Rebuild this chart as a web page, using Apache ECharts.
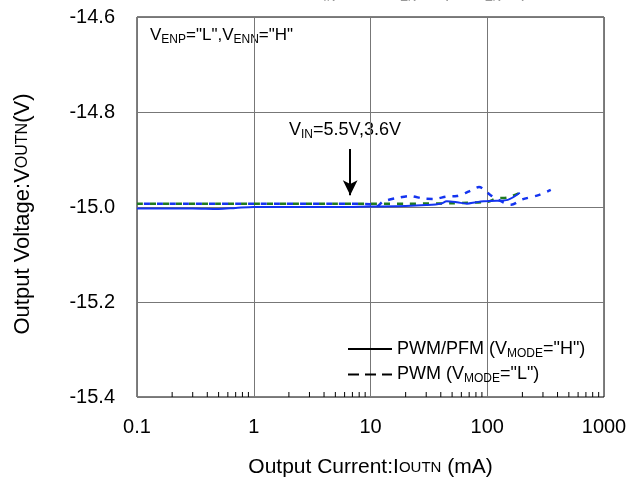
<!DOCTYPE html>
<html>
<head>
<meta charset="utf-8">
<script src="https://cdn.jsdelivr.net/npm/echarts@6/dist/echarts.min.js"></script>
<style>html,body{margin:0;padding:0;background:#fff}#c{width:636px;height:484px}</style>
</head>
<body>
<div id="c"></div>
<script>
// ---- data ----
const yTicks = [-15.4, -15.2, -15.0, -14.8, -14.6];
const xTicks = [0.1, 1, 10, 100, 1000];
const minorTicks = [0.2,0.3,0.4,0.5,0.6,0.7,0.8,0.9,2,3,4,5,6,7,8,9,20,30,40,50,60,70,80,90,200,300,400,500,600,700,800,900];

const pwmPfmI = [0.1, 0.2, 0.3, 0.5, 0.7, 1, 2, 5, 10, 20, 30, 40, 45, 55, 67, 80, 93, 120, 150, 190];
const pwmPfmV = [-15.003, -15.003, -15.003, -15.004, -15.002, -15.0, -15.0, -15.0, -14.999, -14.998, -14.996, -14.993, -14.988, -14.99, -14.993, -14.99, -14.988, -14.987, -14.985, -14.97];

const pwmGreenI = [0.1, 0.2, 0.5, 1, 2, 5, 10, 20, 50, 100, 120, 150, 190];
const pwmGreenV = [-14.993, -14.993, -14.993, -14.993, -14.993, -14.993, -14.993, -14.993, -14.992, -14.989, -14.982, -14.98, -14.97];

const pwmBlueI = [0.1, 1, 5, 10, 11, 13, 17, 22, 28, 35, 45, 55, 70, 85, 108, 137, 160, 200, 275, 350];
const pwmBlueV = [-14.993, -14.993, -14.993, -14.994, -15.0, -14.988, -14.981, -14.977, -14.982, -14.983, -14.978, -14.977, -14.967, -14.958, -14.976, -14.99, -14.995, -14.984, -14.975, -14.964];

const arrowX = 6.7, arrowTop = -14.878, arrowBottom = -14.975;

const zip = (a, b) => a.map((v, i) => [v, b[i]]);
const FONT = 'Liberation Sans';

const chart = echarts.init(document.getElementById('c'), null, {renderer: 'canvas'});
chart.setOption({
  animation: false,
  backgroundColor: '#fff',
  textStyle: {fontFamily: FONT},
  grid: {left: 137, right: 32, top: 17, bottom: 87, show: true, borderColor: '#000', borderWidth: 1, backgroundColor: 'transparent'},
  xAxis: {
    type: 'log', min: 0.1, max: 1000, logBase: 10,
    axisLine: {show: false}, axisTick: {show: false},
    axisLabel: {color: '#000', fontSize: 20, fontFamily: FONT, margin: 20,
      formatter: v => { const t = xTicks.find(k => Math.abs(k - v) / k < 1e-6); return t === undefined ? '' : String(t); }},
    splitLine: {show: true, lineStyle: {color: '#777', width: 1}},
    name: '{n|Output Current:I}{s|OUTN}{n| (mA)}',
    nameLocation: 'middle', nameGap: 60,
    nameTextStyle: {rich: {n: {fontSize: 21, fontFamily: FONT, color: '#000'}, s: {fontSize: 15, fontFamily: FONT, color: '#000'}}}
  },
  yAxis: {
    type: 'value', min: -15.4, max: -14.6, interval: 0.2,
    axisLine: {show: false}, axisTick: {show: false},
    axisLabel: {color: '#000', fontSize: 20, fontFamily: FONT, margin: 22,
      formatter: v => { const t = yTicks.find(k => Math.abs(k - v) < 1e-6); return t === undefined ? '' : t.toFixed(1); }},
    splitLine: {show: true, lineStyle: {color: '#777', width: 1}},
    name: '{n|Output Voltage:V}{s|OUTN}{n|(V)}',
    nameLocation: 'middle', nameRotate: 90, nameGap: 103, nameTextStyle: {padding: [0, 14, 0, 0],
      rich: {n: {fontSize: 22, fontFamily: FONT, color: '#000'}, s: {fontSize: 16, fontFamily: FONT, color: '#000'}}}
  },
  legend: {
    left: 342, top: 335, orient: 'vertical', itemGap: 6, itemWidth: 44, itemHeight: 17,
    itemStyle: {opacity: 0},
    data: ['PWM/PFM', 'PWM'],
    formatter: n => n === 'PWM/PFM' ? '{n|PWM/PFM (V}{s|MODE}{n|="H")}' : '{n|PWM (V}{s|MODE}{n|="L")}',
    textStyle: {rich: {n: {fontSize: 18, fontFamily: FONT, color: '#000'}, s: {fontSize: 12, fontFamily: FONT, color: '#000', padding: [9, 0, 0, 0]}}}
  },
  series: [
    {name: 'PWM/PFM', type: 'line', data: [], symbol: 'none', itemStyle: {color: '#000'}, lineStyle: {color: '#000', width: 2, type: 'solid'}},
    {name: 'PWM', type: 'line', data: [], symbol: 'none', itemStyle: {color: '#000'}, lineStyle: {color: '#000', width: 2, type: [11, 6]}},
    {name: 'green', type: 'line', data: zip(pwmGreenI, pwmGreenV), symbol: 'none', smooth: 0.3,
      lineStyle: {color: '#1f7a1f', width: 2.5, type: [6, 7]}, z: 3},
    {name: 'blueDash', type: 'line', data: zip(pwmBlueI, pwmBlueV), symbol: 'none', smooth: 0.3,
      lineStyle: {color: '#1434f0', width: 2.5, type: [6, 7], dashOffset: 6}, z: 4,
      markLine: {silent: true, symbol: ['none', 'arrow'], symbolSize: [11, 15],
        lineStyle: {color: '#000', width: 2, type: 'solid'}, label: {show: false},
        data: [[{coord: [arrowX, arrowTop]}, {coord: [arrowX, arrowBottom]}]]}},
    {name: 'blueSolid', type: 'line', data: zip(pwmPfmI, pwmPfmV), symbol: 'none', smooth: 0.3,
      lineStyle: {color: '#1434f0', width: 2}, z: 5},
    {name: 'minor', type: 'custom', data: minorTicks.map(v => [v, -15.4]), z: 6, silent: true,
      renderItem: (params, api) => {
        const p = api.coord([api.value(0), api.value(1)]);
        return {type: 'line', shape: {x1: p[0], y1: p[1], x2: p[0], y2: p[1] - 5}, style: {stroke: '#000', lineWidth: 1}};
      }}
  ],
  graphic: [
    {type: 'text', left: 150, top: 27, style: {
      text: '{n|V}{s|ENP}{n|="L",V}{s|ENN}{n|="H"}', fontFamily: FONT,
      rich: {n: {fontSize: 17, fontFamily: FONT, fill: '#000'}, s: {fontSize: 12, fontFamily: FONT, fill: '#000', padding: [9, 0, 0, 0]}}}},
    {type: 'text', left: 289, top: 121, style: {
      text: '{n|V}{s|IN}{n|=5.5V,3.6V}', fontFamily: FONT,
      rich: {n: {fontSize: 18, fontFamily: FONT, fill: '#000'}, s: {fontSize: 12, fontFamily: FONT, fill: '#000', padding: [10, 0, 0, 0]}}}},
    {type: 'text', left: 312, top: -15, style: {
      text: '{n|V}{s|IN}{n|=5.5V, C}{s|ZN}{n|=10μF, C}{s|ZN}{n|=1μF}', fontFamily: FONT,
      rich: {n: {fontSize: 17, fontFamily: FONT, fill: '#999'}, s: {fontSize: 12, fontFamily: FONT, fill: '#999', padding: [9, 0, 0, 0]}}}}
  ]
});
</script>
</body>
</html>
